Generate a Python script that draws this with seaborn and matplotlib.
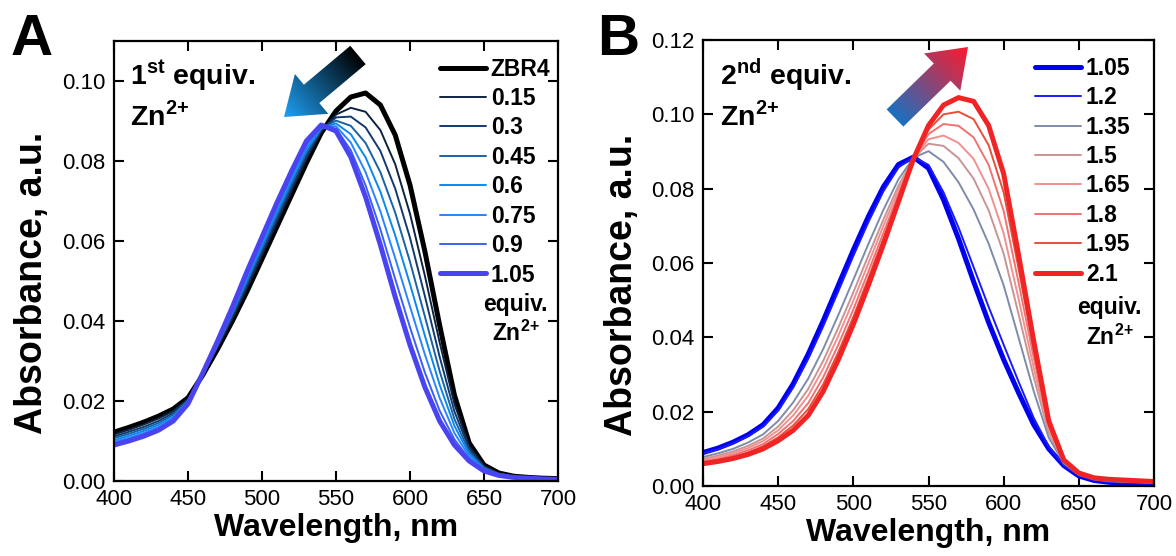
import numpy as np
import pandas as pd
import matplotlib
matplotlib.use("Agg")
import matplotlib.pyplot as plt
import seaborn as sns
from matplotlib.patches import Polygon
from matplotlib.colors import LinearSegmentedColormap

# ---------------- data ----------------
wavelength = list(range(400, 701, 10))

# Panel A: first equivalent of Zn2+
a_labels = ["ZBR4", "0.15", "0.3", "0.45", "0.6", "0.75", "0.9", "1.05"]
a_zbr4 = [0.0122, 0.0134, 0.0147, 0.0162, 0.0180, 0.0208, 0.0265, 0.0330, 0.0400, 0.0475,
          0.0555, 0.0635, 0.0715, 0.0795, 0.0870, 0.0925, 0.0960, 0.0970, 0.0940, 0.0865,
          0.0740, 0.0575, 0.0390, 0.0215, 0.0095, 0.0040, 0.0020, 0.0012, 0.0009, 0.0007, 0.0006]
a_015 = [0.0116, 0.0128, 0.0141, 0.0156, 0.0175, 0.0205, 0.0266, 0.0334, 0.0406, 0.0484,
         0.0565, 0.0646, 0.0726, 0.0805, 0.0874, 0.0916, 0.0933, 0.0923, 0.0877, 0.0792,
         0.0668, 0.0514, 0.0347, 0.0193, 0.0087, 0.0037, 0.0019, 0.0011, 0.0009, 0.0007, 0.0006]
a_030 = [0.0111, 0.0123, 0.0135, 0.0150, 0.0170, 0.0203, 0.0267, 0.0337, 0.0412, 0.0492,
         0.0573, 0.0655, 0.0735, 0.0813, 0.0877, 0.0909, 0.0911, 0.0884, 0.0825, 0.0731,
         0.0608, 0.0463, 0.0311, 0.0174, 0.0080, 0.0035, 0.0018, 0.0011, 0.0008, 0.0006, 0.0005]
a_045 = [0.0107, 0.0118, 0.0130, 0.0145, 0.0166, 0.0201, 0.0267, 0.0340, 0.0417, 0.0499,
         0.0581, 0.0664, 0.0744, 0.0821, 0.0880, 0.0901, 0.0888, 0.0845, 0.0772, 0.0671,
         0.0548, 0.0412, 0.0275, 0.0155, 0.0073, 0.0033, 0.0017, 0.0011, 0.0008, 0.0006, 0.0005]
a_060 = [0.0102, 0.0113, 0.0125, 0.0140, 0.0161, 0.0199, 0.0268, 0.0342, 0.0422, 0.0506,
         0.0589, 0.0672, 0.0752, 0.0829, 0.0882, 0.0894, 0.0867, 0.0809, 0.0723, 0.0614,
         0.0492, 0.0364, 0.0241, 0.0138, 0.0067, 0.0031, 0.0016, 0.0010, 0.0008, 0.0006, 0.0005]
a_075 = [0.0098, 0.0108, 0.0120, 0.0135, 0.0157, 0.0197, 0.0269, 0.0345, 0.0427, 0.0513,
         0.0597, 0.0681, 0.0761, 0.0837, 0.0885, 0.0887, 0.0846, 0.0772, 0.0674, 0.0557,
         0.0436, 0.0317, 0.0208, 0.0120, 0.0061, 0.0029, 0.0015, 0.0010, 0.0007, 0.0006, 0.0005]
a_090 = [0.0094, 0.0104, 0.0116, 0.0131, 0.0153, 0.0195, 0.0270, 0.0348, 0.0431, 0.0520,
         0.0604, 0.0688, 0.0768, 0.0844, 0.0888, 0.0881, 0.0827, 0.0739, 0.0629, 0.0505,
         0.0384, 0.0272, 0.0176, 0.0104, 0.0055, 0.0027, 0.0014, 0.0009, 0.0007, 0.0005, 0.0004]
a_105 = [0.0090, 0.0100, 0.0112, 0.0127, 0.0150, 0.0193, 0.0270, 0.0350, 0.0435, 0.0525,
         0.0610, 0.0695, 0.0775, 0.0850, 0.0890, 0.0875, 0.0810, 0.0710, 0.0590, 0.0460,
         0.0340, 0.0235, 0.0150, 0.0090, 0.0050, 0.0025, 0.0014, 0.0009, 0.0007, 0.0005, 0.0004]

# Panel B: second equivalent of Zn2+
b_labels = ["1.05", "1.2", "1.35", "1.5", "1.65", "1.8", "1.95", "2.1"]
b_105 = [0.0090, 0.0102, 0.0118, 0.0138, 0.0165, 0.0210, 0.0275, 0.0355, 0.0445, 0.0540,
         0.0635, 0.0725, 0.0805, 0.0865, 0.0885, 0.0855, 0.0770, 0.0665, 0.0550, 0.0440,
         0.0340, 0.0250, 0.0165, 0.0100, 0.0055, 0.0027, 0.0015, 0.0010, 0.0008, 0.0007, 0.0006]
b_120 = [0.0088, 0.0099, 0.0115, 0.0134, 0.0160, 0.0203, 0.0265, 0.0342, 0.0430, 0.0524,
         0.0619, 0.0710, 0.0793, 0.0857, 0.0885, 0.0864, 0.0790, 0.0695, 0.0589, 0.0482,
         0.0380, 0.0280, 0.0183, 0.0106, 0.0056, 0.0028, 0.0016, 0.0011, 0.0009, 0.0008, 0.0006]
b_135 = [0.0078, 0.0088, 0.0100, 0.0117, 0.0139, 0.0175, 0.0225, 0.0289, 0.0369, 0.0460,
         0.0555, 0.0651, 0.0743, 0.0825, 0.0883, 0.0901, 0.0872, 0.0817, 0.0744, 0.0652,
         0.0540, 0.0398, 0.0255, 0.0130, 0.0061, 0.0030, 0.0018, 0.0013, 0.0011, 0.0010, 0.0008]
b_150 = [0.0073, 0.0082, 0.0093, 0.0108, 0.0128, 0.0160, 0.0204, 0.0261, 0.0337, 0.0426,
         0.0521, 0.0620, 0.0717, 0.0808, 0.0882, 0.0921, 0.0915, 0.0882, 0.0827, 0.0742,
         0.0625, 0.0461, 0.0293, 0.0143, 0.0064, 0.0032, 0.0019, 0.0015, 0.0013, 0.0011, 0.0009]
b_165 = [0.0070, 0.0078, 0.0088, 0.0102, 0.0121, 0.0150, 0.0190, 0.0243, 0.0316, 0.0404,
         0.0499, 0.0599, 0.0700, 0.0797, 0.0882, 0.0933, 0.0943, 0.0923, 0.0880, 0.0800,
         0.0680, 0.0502, 0.0318, 0.0151, 0.0065, 0.0033, 0.0020, 0.0016, 0.0014, 0.0012, 0.0010]
b_180 = [0.0066, 0.0073, 0.0083, 0.0096, 0.0113, 0.0140, 0.0175, 0.0223, 0.0293, 0.0380,
         0.0475, 0.0577, 0.0681, 0.0785, 0.0881, 0.0947, 0.0974, 0.0969, 0.0938, 0.0864,
         0.0740, 0.0546, 0.0345, 0.0160, 0.0067, 0.0034, 0.0021, 0.0016, 0.0014, 0.0013, 0.0011]
b_195 = [0.0063, 0.0070, 0.0078, 0.0090, 0.0107, 0.0131, 0.0163, 0.0207, 0.0274, 0.0360,
         0.0455, 0.0559, 0.0666, 0.0775, 0.0881, 0.0959, 0.1000, 0.1007, 0.0987, 0.0917,
         0.0790, 0.0583, 0.0368, 0.0168, 0.0069, 0.0034, 0.0021, 0.0017, 0.0015, 0.0013, 0.0011]
b_210 = [0.0060, 0.0066, 0.0074, 0.0085, 0.0100, 0.0122, 0.0150, 0.0190, 0.0255, 0.0340,
         0.0435, 0.0540, 0.0650, 0.0765, 0.0880, 0.0970, 0.1025, 0.1045, 0.1035, 0.0970,
         0.0840, 0.0620, 0.0390, 0.0175, 0.0070, 0.0035, 0.0022, 0.0018, 0.0016, 0.0014, 0.0012]

x_ticks = [400, 450, 500, 550, 600, 650, 700]
a_yticks = [0.00, 0.02, 0.04, 0.06, 0.08, 0.10]
b_yticks = [0.00, 0.02, 0.04, 0.06, 0.08, 0.10, 0.12]

# ---------------- styles ----------------
a_colors = ["#000000", "#0d2440", "#123a6e", "#1a62a6", "#0a88ee", "#2a84ff", "#3a60f2", "#4a44f0"]
a_widths = [3.6, 1.4, 1.4, 1.4, 1.4, 1.4, 1.4, 3.6]
b_colors = ["#0000ee", "#1a1aff", "#7d8cab", "#c99494", "#f29090", "#f27272", "#e4503c", "#f02424"]
b_widths = [3.6, 1.4, 1.4, 1.4, 1.4, 1.4, 1.4, 3.6]

sns.set_style("ticks")
plt.rcParams["font.family"] = ["Liberation Sans", "DejaVu Sans"]
plt.rcParams["mathtext.fontset"] = "custom"
plt.rcParams["mathtext.rm"] = "Liberation Sans"
plt.rcParams["mathtext.bf"] = "Liberation Sans:bold"
for key in ["text.color", "axes.labelcolor", "xtick.color", "ytick.color", "axes.edgecolor"]:
    plt.rcParams[key] = "black"

W, H = 1176, 556
fig = plt.figure(figsize=(W / 100, H / 100), dpi=100)
axA = fig.add_axes([114 / W, 1 - 481 / H, 444 / W, 440 / H])
axB = fig.add_axes([703 / W, 1 - 486 / H, 451 / W, 446 / H])


def draw_panel(ax, series, labels, colors, widths, ymax, yticks, leg_x, ylab_x):
    df = pd.DataFrame({"wl": wavelength})
    for lab, vals in zip(labels, series):
        df[lab] = vals
    long = df.melt(id_vars="wl", var_name="series", value_name="absorb")
    for lab, c, lw in zip(labels, colors, widths):
        sub = long[long["series"] == lab]
        sns.lineplot(data=sub, x="wl", y="absorb", color=c, linewidth=lw,
                     label=lab, ax=ax, legend=False)
    ax.set_xlim(400, 700)
    ax.set_ylim(0, ymax)
    ax.set_xticks(x_ticks)
    ax.set_yticks(yticks)
    ax.set_yticklabels([f"{v:.2f}" for v in yticks])
    ax.tick_params(direction="in", length=7, width=1.5, top=True, right=True,
                   labelsize=16, pad=6, colors="black")
    for s in ax.spines.values():
        s.set_linewidth(1.6)
        s.set_color("black")
    ax.set_xlabel("Wavelength, nm", fontsize=23, fontweight="bold", labelpad=2)
    ax.set_ylabel("Absorbance, a.u.", fontsize=27, fontweight="bold")
    ax.yaxis.set_label_coords(ylab_x, 0.45)
    leg = ax.legend(loc="upper right", bbox_to_anchor=(leg_x, 1 - 12 / 440),
                    frameon=False, prop={"weight": "bold", "size": 16.5},
                    handlelength=2.0, handletextpad=0.22, labelspacing=0.28,
                    borderaxespad=0, borderpad=0.2)
    return leg


draw_panel(axA, [a_zbr4, a_015, a_030, a_045, a_060, a_075, a_090, a_105],
           a_labels, a_colors, a_widths, 0.11, a_yticks, 1 - 3 / 444, -0.145)
draw_panel(axB, [b_105, b_120, b_135, b_150, b_165, b_180, b_195, b_210],
           b_labels, b_colors, b_widths, 0.12, b_yticks, 0.958, -0.140)

# text annotations
sup = r"$^{\mathbf{2{+}}}$"
axA.text(0.036, 0.90, r"1$^{\mathbf{st}}$ equiv.", transform=axA.transAxes,
         fontsize=20.5, fontweight="bold", va="baseline", ha="left")
axA.text(0.036, 0.809, "Zn" + sup, transform=axA.transAxes,
         fontsize=20.5, fontweight="bold", va="baseline", ha="left")
axB.text(0.038, 0.899, r"2$^{\mathbf{nd}}$ equiv.", transform=axB.transAxes,
         fontsize=20.5, fontweight="bold", va="baseline", ha="left")
axB.text(0.038, 0.809, "Zn" + sup, transform=axB.transAxes,
         fontsize=20.5, fontweight="bold", va="baseline", ha="left")

axA.text(0.905, 0.400, "equiv.", transform=axA.transAxes, fontsize=16.5,
         fontweight="bold", ha="center", va="center")
axA.text(0.905, 0.336, "Zn" + sup, transform=axA.transAxes, fontsize=16.5,
         fontweight="bold", ha="center", va="center")
axB.text(0.902, 0.400, "equiv.", transform=axB.transAxes, fontsize=16.5,
         fontweight="bold", ha="center", va="center")
axB.text(0.902, 0.333, "Zn" + sup, transform=axB.transAxes, fontsize=16.5,
         fontweight="bold", ha="center", va="center")

fig.text(11 / W, 1 - 55 / H, "A", fontsize=42, fontweight="bold", va="baseline", ha="left")
fig.text(597 / W, 1 - 55 / H, "B", fontsize=42, fontweight="bold", va="baseline", ha="left")

# gradient arrows (decorations) on an overlay in pixel coordinates
ov = fig.add_axes([0, 0, 1, 1], zorder=5)
ov.set_axis_off()
ov.patch.set_alpha(0)


def gradient_arrow(tail, tip, shaft_w, head_w, head_len, c0, c1):
    tail = np.array(tail, float)
    tip = np.array(tip, float)
    d = tip - tail
    L = np.hypot(*d)
    u = d / L
    n = np.array([-u[1], u[0]])
    base = tip - u * head_len
    pts = np.array([tail + n * shaft_w / 2, base + n * shaft_w / 2, base + n * head_w / 2,
                    tip, base - n * head_w / 2, base - n * shaft_w / 2, tail - n * shaft_w / 2])
    x0, y0 = pts.min(axis=0) - 2
    x1, y1 = pts.max(axis=0) + 2
    xs = np.linspace(x0, x1, 200)
    ys = np.linspace(y0, y1, 200)
    X, Y = np.meshgrid(xs, ys)
    t = ((X - tail[0]) * u[0] + (Y - tail[1]) * u[1]) / L
    t = np.clip(t, 0, 1)
    cmap = LinearSegmentedColormap.from_list("g", [c0, c1])
    im = ov.imshow(t, cmap=cmap, vmin=0, vmax=1, extent=(x0, x1, y1, y0),
                   origin="upper", interpolation="bilinear", aspect="auto")
    poly = Polygon(pts, closed=True, facecolor="none", edgecolor="none")
    ov.add_patch(poly)
    im.set_clip_path(poly)


gradient_arrow((358, 55), (284, 117), 24, 52, 36, "#000000", "#1ea0f5")
gradient_arrow((895, 118), (968, 47), 24, 52, 36, "#1a70c0", "#ff1a2c")
ov.set_xlim(0, W)
ov.set_ylim(H, 0)

fig.savefig("out.png", dpi=100)
